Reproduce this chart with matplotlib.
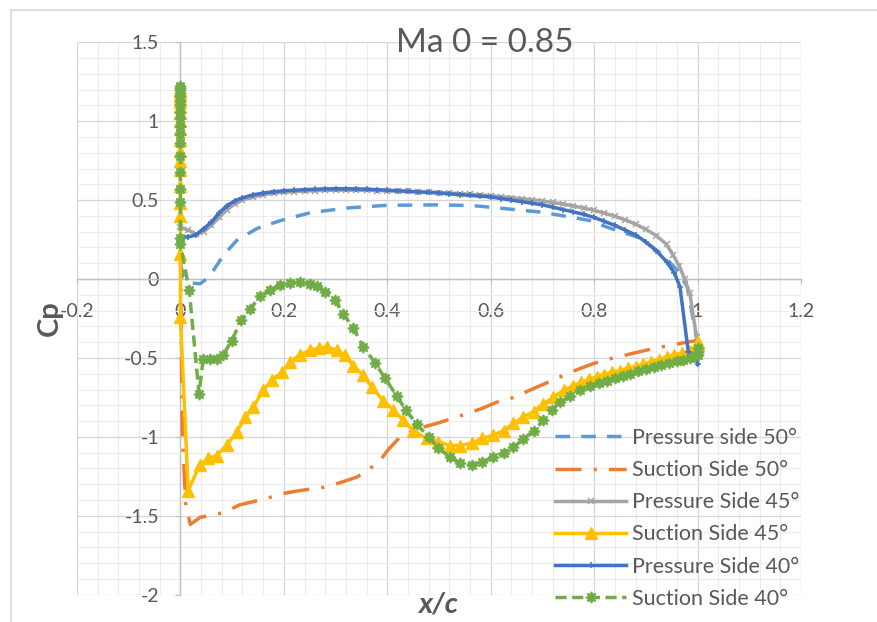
import matplotlib
matplotlib.use("Agg")
import matplotlib.pyplot as plt
from matplotlib.lines import Line2D
from matplotlib.ticker import MultipleLocator

plt.rcParams['font.family'] = ['Lato', 'DejaVu Sans']

TEXT = '#595959'

# ---- data -------------------------------------------------------------
# Pressure side 50 deg
ps50_x = [0.0, 0.006, 0.02, 0.038, 0.05, 0.064, 0.083, 0.109, 0.148, 0.193, 0.251,
          0.322, 0.399, 0.5, 0.567, 0.631, 0.695, 0.76, 0.792, 0.824, 0.889, 0.93,
          0.96, 0.98, 0.998]
ps50_y = [0.1, 0.01, -0.025, -0.03, 0.0, 0.055, 0.15, 0.245, 0.32, 0.37, 0.42,
          0.45, 0.467, 0.47, 0.465, 0.445, 0.425, 0.39, 0.37, 0.33, 0.26, 0.16,
          0.06, -0.05, -0.37]

# Suction side 50 deg
ss50_x = [0.0, 0.0, 0.002, 0.004, 0.01, 0.019, 0.038, 0.084, 0.115, 0.167, 0.196,
          0.231, 0.276, 0.309, 0.341, 0.367, 0.386, 0.402, 0.425, 0.457, 0.5, 0.534,
          0.583, 0.612, 0.644, 0.689, 0.721, 0.754, 0.799, 0.831, 0.876, 0.915,
          0.947, 0.979, 0.998, 1.0]
ss50_y = [1.2, 0.2, -0.5, -1.0, -1.42, -1.555, -1.51, -1.48, -1.43, -1.39, -1.36,
          -1.34, -1.32, -1.29, -1.255, -1.2, -1.15, -1.08, -1.0, -0.95, -0.91, -0.875,
          -0.82, -0.78, -0.75, -0.685, -0.64, -0.59, -0.535, -0.505, -0.47, -0.44,
          -0.42, -0.40, -0.39, -0.38]

# Pressure side 45 deg
ps45_x = [0.0, 0.015, 0.03, 0.045, 0.06, 0.075, 0.09, 0.105, 0.12,
          0.14, 0.16, 0.18, 0.20, 0.22, 0.24, 0.26, 0.28, 0.30, 0.32, 0.34,
          0.36, 0.38, 0.40, 0.42, 0.44, 0.46, 0.48, 0.50, 0.52, 0.54,
          0.56, 0.58, 0.60, 0.62, 0.64, 0.66, 0.68, 0.70, 0.72, 0.74,
          0.76, 0.78, 0.80, 0.82, 0.84, 0.86, 0.88, 0.90, 0.92, 0.94,
          0.953, 0.965, 0.975, 0.985, 0.998]
ps45_y = [0.33, 0.31, 0.285, 0.30, 0.34, 0.39, 0.44, 0.475, 0.50,
          0.52, 0.535, 0.544, 0.55, 0.554, 0.557, 0.56, 0.562, 0.563, 0.563, 0.563,
          0.562, 0.561, 0.559, 0.557, 0.555, 0.553, 0.551, 0.548, 0.545, 0.541,
          0.537, 0.533, 0.528, 0.522, 0.516, 0.509, 0.502, 0.494, 0.485, 0.475,
          0.463, 0.45, 0.435, 0.418, 0.398, 0.375, 0.348, 0.315, 0.275, 0.22,
          0.15, 0.08, 0.0, -0.09, -0.37]

# Suction side 45 deg
ss45_x = [0.0, 0.0, 0.0, 0.0, 0.0, 0.0, 0.0, 0.0, 0.0, 0.0, 0.0, 0.0, 0.0, 0.0,
          0.0, 0.0, 0.0, 0.0,
          0.015, 0.037, 0.054, 0.07, 0.09, 0.109, 0.125, 0.141, 0.16, 0.177,
          0.196, 0.212, 0.231, 0.251, 0.267, 0.283, 0.302, 0.318, 0.334, 0.354,
          0.37, 0.392, 0.412, 0.431, 0.45, 0.476, 0.499, 0.521, 0.541, 0.563,
          0.583, 0.605, 0.625, 0.644, 0.663, 0.683, 0.702, 0.721, 0.741, 0.76,
          0.775, 0.79, 0.805, 0.82, 0.835, 0.85, 0.865, 0.88, 0.895, 0.91,
          0.925, 0.94, 0.955, 0.97, 0.985, 0.995, 1.0, 1.0]
ss45_y = [1.20, 1.19, 1.17, 1.15, 1.12, 1.09, 1.05, 1.00, 0.95, 0.88, 0.81, 0.75,
          0.69, 0.59, 0.48, 0.40, 0.16, -0.24,
          -1.34, -1.18, -1.135, -1.12, -1.05, -0.97, -0.875, -0.81, -0.705, -0.64,
          -0.59, -0.525, -0.48, -0.45, -0.44, -0.43, -0.45, -0.48, -0.55, -0.61,
          -0.685, -0.77, -0.83, -0.895, -0.96, -1.01, -1.03, -1.055, -1.055, -1.04,
          -1.01, -0.99, -0.96, -0.915, -0.875, -0.84, -0.79, -0.75, -0.705, -0.675,
          -0.655, -0.635, -0.62, -0.605, -0.59, -0.58, -0.565, -0.555, -0.54, -0.525,
          -0.51, -0.495, -0.48, -0.47, -0.455, -0.44, -0.42, -0.40]

# Pressure side 40 deg
ps40_x = [0.0, 0.015, 0.03, 0.045, 0.06, 0.075, 0.09, 0.105, 0.12,
          0.14, 0.16, 0.18, 0.20, 0.22, 0.24, 0.26, 0.28, 0.30, 0.32, 0.34,
          0.36, 0.38, 0.40, 0.42, 0.44, 0.46, 0.48, 0.50, 0.52, 0.54,
          0.56, 0.58, 0.60, 0.62, 0.64, 0.66, 0.68, 0.70, 0.72, 0.74,
          0.76, 0.78, 0.80, 0.82, 0.84, 0.86, 0.88, 0.90, 0.92, 0.94,
          0.955, 0.966, 0.982, 1.0, 1.0]
ps40_y = [0.27, 0.266, 0.28, 0.32, 0.36, 0.42, 0.465, 0.495, 0.515,
          0.533, 0.545, 0.553, 0.559, 0.563, 0.566, 0.569, 0.571, 0.572, 0.572, 0.571,
          0.569, 0.566, 0.563, 0.559, 0.556, 0.552, 0.549, 0.545, 0.54, 0.535,
          0.53, 0.525, 0.52, 0.51, 0.50, 0.49, 0.48, 0.47, 0.455, 0.44,
          0.425, 0.41, 0.39, 0.365, 0.34, 0.31, 0.28, 0.235, 0.18, 0.11,
          0.04, -0.05, -0.46, -0.49, -0.54]

# Suction side 40 deg
ss40_x = [0.0, 0.0, 0.0, 0.0, 0.0, 0.0, 0.0, 0.0, 0.0, 0.0, 0.0, 0.0, 0.0, 0.0,
          0.0, 0.0, 0.0, 0.0,
          0.017, 0.036, 0.044, 0.057, 0.070, 0.083, 0.099, 0.118, 0.135, 0.154,
          0.173, 0.193, 0.212, 0.231, 0.251, 0.264, 0.28, 0.299, 0.315, 0.334,
          0.354, 0.376, 0.396, 0.418, 0.436, 0.457, 0.48, 0.499, 0.521, 0.541,
          0.563, 0.583, 0.605, 0.625, 0.644, 0.663, 0.683, 0.702, 0.718, 0.734,
          0.754, 0.773, 0.792, 0.81, 0.825, 0.84, 0.855, 0.87, 0.885, 0.9,
          0.915, 0.93, 0.945, 0.96, 0.972, 0.985, 0.995, 1.0, 1.0, 1.0]
ss40_y = [1.22, 1.21, 1.20, 1.18, 1.16, 1.13, 1.10, 1.06, 1.02, 0.97, 0.92, 0.86,
          0.78, 0.68, 0.57, 0.49, 0.26, 0.22,
          -0.07, -0.73, -0.505, -0.505, -0.505, -0.48, -0.39, -0.26, -0.19, -0.11,
          -0.07, -0.04, -0.025, -0.02, -0.03, -0.046, -0.08, -0.135, -0.22, -0.31,
          -0.43, -0.53, -0.63, -0.74, -0.83, -0.92, -1.0, -1.07, -1.13, -1.165,
          -1.18, -1.16, -1.13, -1.10, -1.065, -1.016, -0.96, -0.895, -0.83, -0.78,
          -0.74, -0.705, -0.68, -0.66, -0.645, -0.63, -0.615, -0.6, -0.585, -0.57,
          -0.56, -0.545, -0.535, -0.52, -0.515, -0.5, -0.49, -0.48, -0.46, -0.44]

x_ticks = [-0.2, 0, 0.2, 0.4, 0.6, 0.8, 1, 1.2]
x_tick_labels = ['-0.2', '0', '0.2', '0.4', '0.6', '0.8', '1', '1.2']
y_ticks = [-2, -1.5, -1, -0.5, 0, 0.5, 1, 1.5]
y_tick_labels = ['-2', '-1.5', '-1', '-0.5', '0', '0.5', '1', '1.5']

# ---- figure -------------------------------------------------------------
W, H = 878, 622
fig = plt.figure(figsize=(W / 100, H / 100), dpi=100)
ax = fig.add_axes([77 / W, (H - 594.7) / H, 724 / W, 552.4 / H])

ax.set_xlim(-0.2, 1.2)
ax.set_ylim(-2, 1.5)
ax.xaxis.set_minor_locator(MultipleLocator(0.04))
ax.yaxis.set_minor_locator(MultipleLocator(0.1))
ax.set_xticks(x_ticks)
ax.set_xticklabels(x_tick_labels)
ax.set_yticks(y_ticks)
ax.set_yticklabels(y_tick_labels)
ax.grid(which='minor', color='#ececec', lw=0.8, zorder=0)
ax.grid(which='major', color='#d6d6d6', lw=0.9, zorder=0)
ax.set_axisbelow(True)

for s in ('top', 'right'):
    ax.spines[s].set_visible(False)
ax.spines['left'].set_position(('data', 0))
ax.spines['bottom'].set_position(('data', 0))
for s in ('left', 'bottom'):
    ax.spines[s].set_color('#bfbfbf')
    ax.spines[s].set_linewidth(1.0)

ax.tick_params(which='major', length=3.5, color='#bfbfbf', labelsize=14,
               labelcolor=TEXT)
ax.tick_params(axis='y', which='major', pad=12)
ax.tick_params(axis='x', which='major', pad=14)
ax.tick_params(which='minor', length=0)

lw = 2.5
ax.plot(ps50_x, ps50_y, color='#5B9BD5', lw=lw, dashes=(4.2, 3.2),
        label='Pressure side 50°', zorder=3)
ax.plot(ss50_x, ss50_y, color='#ED7D31', lw=lw, dashes=(7.5, 3.5, 0.9, 3.5),
        label='Suction Side 50°', zorder=3)
ax.plot(ps45_x, ps45_y, color='#A5A5A5', lw=lw, marker='x', ms=4.5, mew=1.1,
        label='Pressure Side 45°', zorder=3)
ax.plot(ss45_x, ss45_y, color='#FFC000', lw=lw, marker='^', ms=8,
        mec='#FFC000', label='Suction Side 45°', zorder=3)
ax.plot(ps40_x, ps40_y, color='#4472C4', lw=lw, marker='+', ms=5, mew=1.1,
        label='Pressure Side 40°', zorder=3)
ax.plot(ss40_x, ss40_y, color='#70AD47', lw=lw, dashes=(3.2, 1.6),
        marker=(8, 1, 0), ms=8, mec='#70AD47', mew=1.2,
        label='Suction Side 40°', zorder=3)

fig.text(484.5 / W, 1 - 52 / H, 'Ma 0 = 0.85', fontsize=24, color=TEXT,
         ha='center', va='baseline')

fig.text(50 / W, 1 - 318 / H, 'Cp', rotation=90, fontsize=21, fontweight='bold',
         color=TEXT, ha='center', va='center')
fig.text(438 / W, 1 - 605 / H, 'x/c', fontsize=21, fontweight='bold',
         fontstyle='italic', color=TEXT, ha='center', va='center')

leg = ax.legend(loc='upper left', bbox_to_anchor=(555 / W, 1 - 428 / H),
                bbox_transform=fig.transFigure, frameon=False, fontsize=15.5,
                handlelength=3.3, handletextpad=0.3, labelspacing=0.565,
                borderpad=0, borderaxespad=0)
for t in leg.get_texts():
    t.set_color(TEXT)

# chart area border
border = '#d9d9d9'
fig.add_artist(Line2D([11 / W, 11 / W], [0, 1 - 10 / H], color=border, lw=1.2,
                      transform=fig.transFigure))
fig.add_artist(Line2D([11 / W, 1], [1 - 10 / H, 1 - 10 / H], color=border, lw=1.2,
                      transform=fig.transFigure))

fig.savefig('out.png', dpi=100)
